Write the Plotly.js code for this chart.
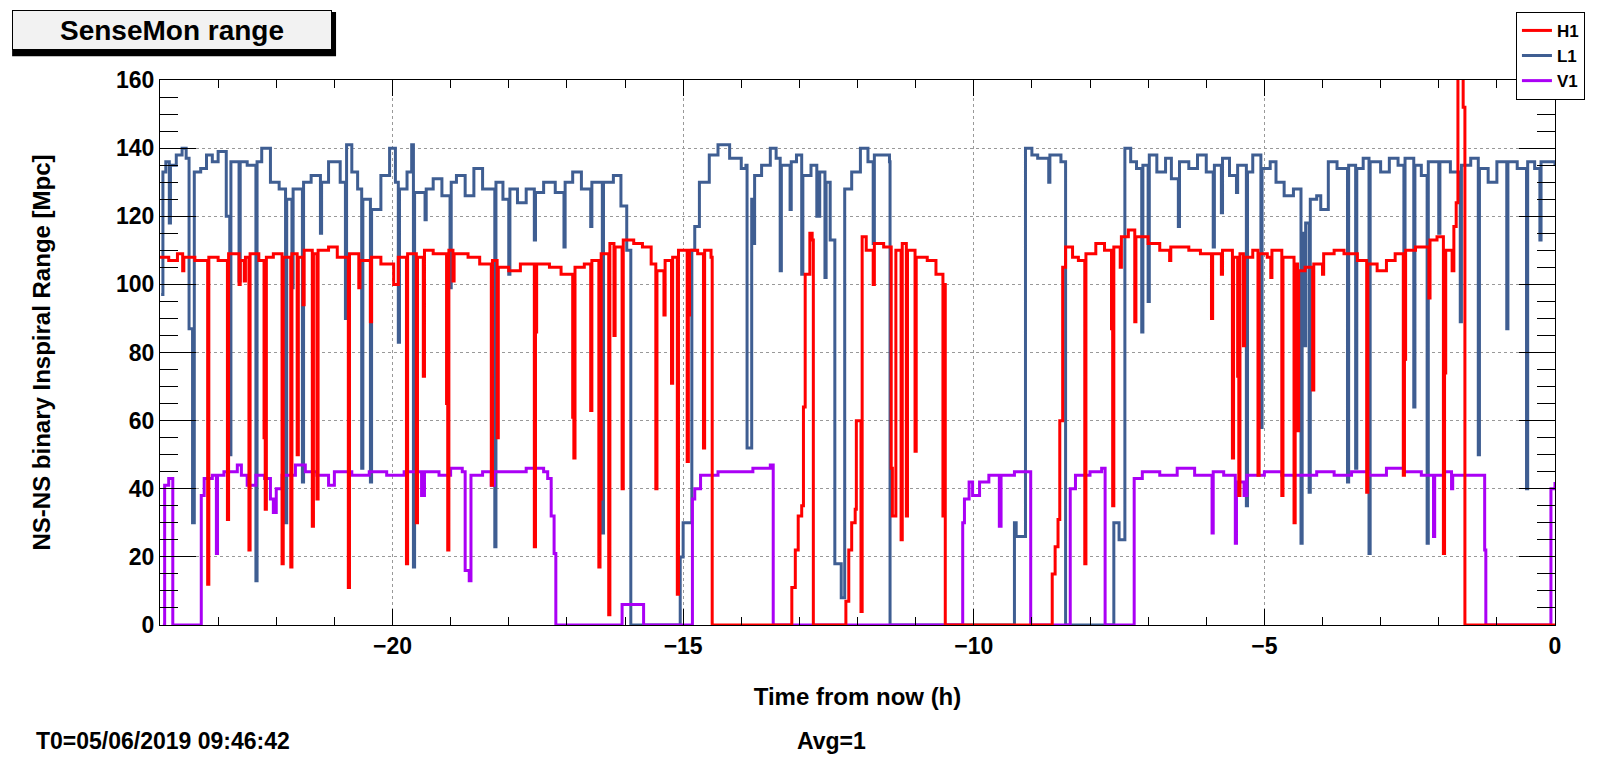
<!DOCTYPE html>
<html>
<head>
<meta charset="utf-8">
<script src="https://cdn.plot.ly/plotly-3.0.1.min.js"></script>
<style>
  html, body { margin: 0; padding: 0; background: #ffffff; }
  #plot { width: 1597px; height: 758px; }
</style>
</head>
<body>
<div id="plot"></div>
<script>
// [hours from now, range in Mpc]
var h1Data = [[-24.0,108],[-23.85,107],[-23.7,109],[-23.61,104],[-23.59,108],[-23.4,107],[-23.18,12],[-23.16,108],[-23.0,107],[-22.84,31],[-22.82,109],[-22.64,100],[-22.62,107],[-22.55,101],[-22.53,108],[-22.47,22],[-22.45,109],[-22.3,107],[-22.21,55],[-22.19,34],[-22.17,108],[-22.05,109],[-21.9,18],[-21.88,108],[-21.75,17],[-21.73,109],[-21.64,50],[-21.62,108],[-21.54,94],[-21.52,110],[-21.38,29],[-21.36,109],[-21.3,37],[-21.28,110],[-21.1,111],[-20.95,108],[-20.76,11],[-20.74,109],[-20.58,99],[-20.56,107],[-20.38,89],[-20.36,108],[-20.2,106],[-19.98,100],[-19.9,108],[-19.76,18],[-19.74,109],[-19.59,30],[-19.57,108],[-19.47,73],[-19.45,110],[-19.3,109],[-19.07,65],[-19.05,22],[-19.03,110],[-18.96,101],[-18.94,109],[-18.7,108],[-18.5,106],[-18.3,41],[-18.28,107],[-18.2,55],[-18.18,105],[-18.0,104],[-17.8,106],[-17.56,23],[-17.54,86],[-17.52,106],[-17.3,105],[-17.1,103],[-16.9,61],[-16.88,49],[-16.86,105],[-16.7,106],[-16.59,63],[-16.57,107],[-16.45,17],[-16.43,37],[-16.41,109],[-16.28,3],[-16.26,112],[-16.19,85],[-16.17,111],[-16.05,40],[-16.03,113],[-15.85,112],[-15.7,111],[-15.55,106],[-15.47,40],[-15.45,104],[-15.33,91],[-15.31,107],[-15.2,71],[-15.18,108],[-15.1,9],[-15.08,110],[-14.93,48],[-14.91,91],[-14.89,110],[-14.75,109],[-14.65,52],[-14.63,110],[-14.52,108],[-14.5,0],
  [-13.16,0],[-13.13,11],[-13.07,22],[-13.02,32],[-12.96,35],[-12.93,64],[-12.9,103],[-12.82,115],[-12.78,113],[-12.76,0],[-12.22,0],[-12.2,7],[-12.15,22],[-12.1,30],[-12.04,34],[-12.02,60],[-11.96,60],[-11.94,4],[-11.92,114],[-11.85,110],[-11.73,100],[-11.71,112],[-11.55,111],[-11.42,46],[-11.4,32],[-11.36,32],[-11.34,110],[-11.25,25],[-11.23,112],[-11.16,32],[-11.14,110],[-11.01,51],[-10.99,108],[-10.8,107],[-10.65,103],[-10.53,32],[-10.51,100],[-10.49,0],
  [-8.68,0],[-8.65,15],[-8.6,23],[-8.55,31],[-8.52,60],[-8.47,105],[-8.42,111],[-8.3,108],[-8.2,107],[-8.09,18],[-8.07,109],[-7.9,112],[-7.75,110],[-7.63,87],[-7.61,35],[-7.59,111],[-7.48,105],[-7.46,114],[-7.34,116],[-7.23,89],[-7.21,114],[-7.0,112],[-6.8,110],[-6.63,107],[-6.61,111],[-6.3,110],[-6.1,109],[-5.91,90],[-5.89,109],[-5.74,103],[-5.72,110],[-5.55,49],[-5.53,108],[-5.46,73],[-5.44,38],[-5.42,109],[-5.36,82],[-5.34,108],[-5.2,110],[-5.11,44],[-5.09,109],[-4.95,108],[-4.89,102],[-4.87,110],[-4.7,38],[-4.68,108],[-4.49,30],[-4.47,106],[-4.43,57],[-4.41,104],[-4.3,105],[-4.17,69],[-4.15,106],[-4.0,103],[-3.98,109],[-3.8,110],[-3.63,109],[-3.4,107],[-3.24,39],[-3.22,106],[-3.06,104],[-2.9,107],[-2.75,109],[-2.61,44],[-2.59,78],[-2.57,110],[-2.4,111],[-2.17,96],[-2.15,113],[-2.03,114],[-1.92,21],[-1.9,74],[-1.88,110],[-1.77,104],[-1.74,117],[-1.7,124],[-1.67,165],[-1.6,165],[-1.58,152],[-1.55,0],[0,0]];

var l1Data = [[-23.98,97],[-23.95,133],[-23.9,136],[-23.84,118],[-23.82,135],[-23.72,138],[-23.62,140],[-23.55,137],[-23.5,87],[-23.44,30],[-23.41,133],[-23.3,134],[-23.2,138],[-23.1,136],[-23.0,139],[-22.86,120],[-22.8,50],[-22.78,136],[-22.64,101],[-22.62,136],[-22.5,135],[-22.35,13],[-22.33,136],[-22.25,140],[-22.1,130],[-21.95,128],[-21.84,30],[-21.82,125],[-21.73,99],[-21.71,128],[-21.55,42],[-21.53,130],[-21.4,132],[-21.24,115],[-21.22,130],[-21.1,136],[-20.9,130],[-20.81,90],[-20.79,141],[-20.7,133],[-20.6,128],[-20.53,46],[-20.51,125],[-20.38,42],[-20.36,122],[-20.2,132],[-20.05,140],[-19.95,130],[-19.9,83],[-19.88,128],[-19.75,133],[-19.67,141],[-19.64,17],[-19.62,127],[-19.44,119],[-19.42,128],[-19.3,131],[-19.15,126],[-19.01,99],[-18.99,130],[-18.9,132],[-18.75,126],[-18.6,134],[-18.45,128],[-18.24,23],[-18.22,130],[-18.1,125],[-18.0,103],[-17.98,128],[-17.85,124],[-17.7,128],[-17.56,113],[-17.54,127],[-17.4,130],[-17.2,127],[-17.05,111],[-17.03,130],[-16.9,133],[-16.75,128],[-16.59,117],[-16.57,130],[-16.39,27],[-16.37,130],[-16.2,132],[-16.07,123],[-15.97,110],[-15.9,0],
  [-15.05,20],[-15.0,30],[-14.9,30],[-14.85,110],[-14.8,117],[-14.72,130],[-14.55,138],[-14.4,141],[-14.2,137],[-14.0,134],[-13.92,135],[-13.9,52],[-13.84,52],[-13.82,125],[-13.79,112],[-13.77,132],[-13.65,135],[-13.5,140],[-13.4,137],[-13.33,104],[-13.31,135],[-13.16,122],[-13.14,136],[-13.05,138],[-12.96,103],[-12.94,132],[-12.8,135],[-12.7,120],[-12.65,133],[-12.56,102],[-12.54,130],[-12.47,113],[-12.39,18],[-12.33,18],[-12.28,8],[-12.22,128],[-12.1,133],[-11.95,140],[-11.82,136],[-11.73,112],[-11.71,138],[-11.6,138],[-11.45,136],[-11.44,0],
  [-9.31,0],[-9.3,30],[-9.27,26],[-9.12,26],[-9.11,140],[-9.0,138],[-8.9,137],[-8.71,130],[-8.69,138],[-8.5,136],[-8.42,0],
  [-7.6,0],[-7.59,30],[-7.5,25],[-7.4,140],[-7.3,136],[-7.2,134],[-7.11,86],[-7.09,135],[-7.0,95],[-6.98,138],[-6.85,133],[-6.7,137],[-6.6,131],[-6.48,117],[-6.46,136],[-6.3,134],[-6.15,138],[-6.0,133],[-5.88,111],[-5.86,135],[-5.74,121],[-5.72,137],[-5.6,132],[-5.48,127],[-5.46,135],[-5.31,35],[-5.29,133],[-5.2,138],[-5.06,58],[-5.04,134],[-4.9,136],[-4.8,130],[-4.66,126],[-4.5,128],[-4.37,24],[-4.35,115],[-4.31,82],[-4.29,118],[-4.23,39],[-4.21,125],[-4.1,126],[-4.03,122],[-3.9,136],[-3.75,134],[-3.57,42],[-3.55,135],[-3.43,46],[-3.41,134],[-3.3,137],[-3.2,21],[-3.18,136],[-3.0,133],[-2.85,137],[-2.7,135],[-2.6,78],[-2.58,137],[-2.43,64],[-2.41,135],[-2.3,132],[-2.2,24],[-2.18,136],[-2.0,115],[-1.98,136],[-1.8,133],[-1.63,89],[-1.61,135],[-1.45,137],[-1.32,50],[-1.3,134],[-1.15,130],[-1.0,136],[-0.83,87],[-0.81,136],[-0.65,134],[-0.49,40],[-0.47,136],[-0.35,134],[-0.26,113],[-0.24,136],[0,135]];

var v1Data = [[-23.95,0],[-23.92,41],[-23.85,43],[-23.78,0],[-23.3,0],[-23.29,38],[-23.24,43],[-23.1,44],[-23.03,21],[-23.01,44],[-22.9,45],[-22.67,47],[-22.6,44],[-22.5,41],[-22.35,44],[-22.2,43],[-22.1,37],[-22.05,33],[-22.0,40],[-21.9,44],[-21.67,47],[-21.5,45],[-21.3,44],[-21.1,41],[-21.0,45],[-20.7,44],[-20.4,45],[-20.1,44],[-19.8,45],[-19.5,38],[-19.45,45],[-19.2,44],[-19.0,46],[-18.8,45],[-18.75,16],[-18.68,13],[-18.65,44],[-18.45,45],[-18.3,41],[-18.25,45],[-18.0,45],[-17.7,46],[-17.4,45],[-17.33,43],[-17.27,32],[-17.22,21],[-17.19,0],[-16.05,6],[-15.68,0],[-14.84,37],[-14.8,40],[-14.7,44],[-14.4,45],[-14.1,45],[-13.8,46],[-13.5,47],[-13.45,0],[-10.19,30],[-10.16,37],[-10.08,42],[-10.02,38],[-9.9,42],[-9.74,44],[-9.6,44],[-9.56,29],[-9.53,44],[-9.3,45],[-9.05,45],[-9.02,0],[-8.34,40],[-8.25,44],[-8.0,45],[-7.8,46],[-7.74,0],[-7.24,43],[-7.1,45],[-6.8,44],[-6.5,46],[-6.2,44],[-5.9,27],[-5.88,45],[-5.7,44],[-5.5,24],[-5.48,42],[-5.35,38],[-5.3,44],[-5.0,45],[-4.7,44],[-4.4,44],[-4.1,45],[-3.8,44],[-3.5,45],[-3.2,44],[-2.9,46],[-2.6,45],[-2.3,44],[-2.09,26],[-2.07,44],[-1.9,45],[-1.78,40],[-1.76,44],[-1.5,44],[-1.23,44],[-1.21,22],[-1.19,0],[-0.07,40],[0,42]];

var names = ['H1', 'L1', 'V1'];
var colors = ['#ff0000', '#3f5e92', '#aa00f5'];
var yTicks = [0, 20, 40, 60, 80, 100, 120, 140, 160];
var xTicks = [-20, -15, -10, -5, 0];

var fontName = 'Liberation Sans, Arial, sans-serif';

function makeTrace(pts, i) {
    return {
        x: pts.map(function (p) { return p[0]; }),
        y: pts.map(function (p) { return p[1]; }),
        type: 'scatter',
        mode: 'lines',
        name: names[i],
        legendrank: i + 1,
        line: {color: colors[i], width: 3, shape: 'hv'}
    };
}

var traces = [makeTrace(h1Data, 0), makeTrace(l1Data, 1), makeTrace(v1Data, 2)];
// L1 drawn first, H1 on top
var data = [traces[1], traces[2], traces[0]];

var axisCommon = {
    showline: true, linecolor: '#000', linewidth: 1, mirror: 'ticks',
    ticks: 'inside', tickcolor: '#000',
    showgrid: true, gridcolor: '#999', griddash: 'dot', gridwidth: 1,
    zeroline: false,
    tickfont: {family: fontName, size: 23, color: '#000', weight: 'bold'}
};

var layout = {
    width: 1597, height: 758,
    margin: {l: 160, r: 30, t: 72, b: 133},
    paper_bgcolor: '#fff', plot_bgcolor: '#fff',
    showlegend: true,
    legend: {
        x: 0.972, xanchor: 'left', y: 1.125, yanchor: 'top',
        bgcolor: '#fff', bordercolor: '#000', borderwidth: 1,
        font: {family: fontName, size: 17, color: '#000', weight: 'bold'},
        itemwidth: 30, tracegroupgap: 8
    },
    xaxis: Object.assign({}, axisCommon, {
        range: [-24, 0], tickvals: xTicks, ticklen: 16,
        minor: {dtick: 1, ticklen: 8, ticks: 'inside', tickcolor: '#000', showgrid: false},
        title: {text: 'Time from now (h)', standoff: 30,
                font: {family: fontName, size: 24, color: '#000', weight: 'bold'}}
    }),
    yaxis: Object.assign({}, axisCommon, {
        range: [0, 160], tickvals: yTicks, ticklen: 36,
        minor: {dtick: 5, ticklen: 18, ticks: 'inside', tickcolor: '#000', showgrid: false},
        title: {text: 'NS-NS binary Inspiral Range [Mpc]', standoff: 58,
                font: {family: fontName, size: 24, color: '#000', weight: 'bold'}}
    }),
    shapes: [
        {type: 'rect', xref: 'paper', yref: 'paper', x0: -0.106, x1: 0.1262, y0: 1.0435, y1: 1.125,
         fillcolor: '#000', line: {width: 0}, layer: 'below'}
    ],
    annotations: [
        {text: 'SenseMon range', xref: 'paper', yref: 'paper', x: 0.0086, y: 1.092,
         xanchor: 'center', yanchor: 'middle', showarrow: false, width: 316, height: 36,
         bgcolor: '#f2f2f2', bordercolor: '#000', borderwidth: 1,
         font: {family: fontName, size: 28, color: '#000', weight: 'bold'}},
        {text: 'T0=05/06/2019 09:46:42', xref: 'paper', yref: 'paper', x: -0.09, y: -0.212,
         xanchor: 'left', yanchor: 'middle', showarrow: false,
         font: {family: fontName, size: 23, color: '#000', weight: 'bold'}},
        {text: 'Avg=1', xref: 'paper', yref: 'paper', x: 0.455, y: -0.212,
         xanchor: 'left', yanchor: 'middle', showarrow: false,
         font: {family: fontName, size: 23, color: '#000', weight: 'bold'}}
    ]
};

Plotly.newPlot('plot', data, layout, {displayModeBar: false, staticPlot: true});
</script>
</body>
</html>
